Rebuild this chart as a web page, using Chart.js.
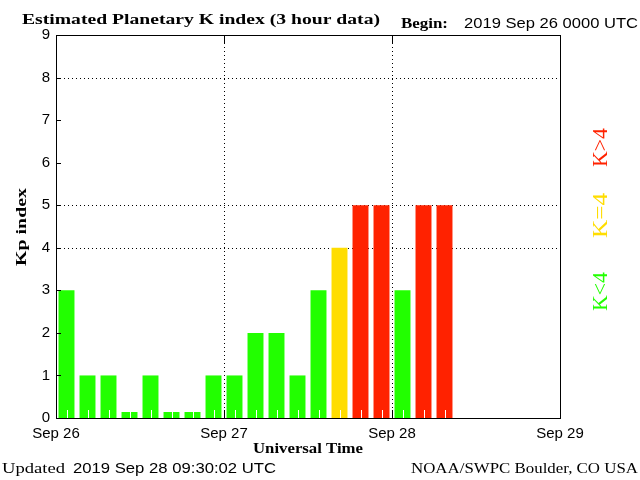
<!DOCTYPE html>
<html>
<head>
<meta charset="utf-8">
<script src="https://cdn.jsdelivr.net/npm/chart.js@4/dist/chart.umd.min.js"></script>
<style>
  html, body { margin: 0; padding: 0; background: #fff; }
  #wrap { width: 640px; height: 480px; }
</style>
</head>
<body>
<div id="wrap"><canvas id="c" width="640" height="480"></canvas></div>
<script>
// ---- data ----
const slotLabels = ['26 00','26 03','26 06','26 09','26 12','26 15','26 18','26 21',
                    '27 00','27 03','27 06','27 09','27 12','27 15','27 18','27 21',
                    '28 00','28 03','28 06','28 09','28 12','28 15','28 18','28 21'];
const kpValues = [3,1,1,0,1,0,0,1, 1,2,2,1,3,4,5,5, 3,5,5,null,null,null,null,null];
const dayTickLabels = ['Sep 26','Sep 27','Sep 28','Sep 29'];
const dayTickHours = [0,24,48,72];
const dottedY = [4,5,8];
const titleText = 'Estimated Planetary K index (3 hour data)';
const beginLabel = 'Begin:';
const beginText = '2019 Sep 26 0000 UTC';
const updatedLabel = 'Updated';
const updatedText = '2019 Sep 28 09:30:02 UTC';
const creditText = 'NOAA/SWPC Boulder, CO USA';
const xTitle = 'Universal Time';
const yTitle = 'Kp index';
const legendTexts = ['K<4','K=4','K>4'];

const GREEN = '#22FF00', YELLOW = '#FFDD00', RED = '#FF2200';
function kpColor(v){ return v > 4 ? RED : (v === 4 ? YELLOW : GREEN); }

function fitText(ctx, text, x, y, width, font, color, rotate){
  ctx.save();
  ctx.font = font;
  ctx.fillStyle = color;
  ctx.textAlign = 'left';
  ctx.textBaseline = 'alphabetic';
  const w = ctx.measureText(text).width;
  ctx.translate(x, y);
  if (rotate) ctx.rotate(-Math.PI/2);
  ctx.scale(width / w, 1);
  ctx.fillText(text, 0, 0);
  ctx.restore();
}

const decor = {
  id: 'decor',
  beforeDatasetsDraw(chart){
    const {ctx, chartArea: a, scales} = chart;
    ctx.save();
    ctx.strokeStyle = '#000';
    ctx.lineWidth = 1;
    ctx.setLineDash([1,3]);
    dottedY.forEach(v => {
      const y = Math.round(scales.y.getPixelForValue(v)) + 0.5;
      ctx.beginPath(); ctx.moveTo(a.left, y); ctx.lineTo(a.right, y); ctx.stroke();
    });
    dayTickHours.slice(1, -1).forEach(h => {
      const x = Math.round(scales.x.getPixelForValue(h)) + 0.5;
      ctx.beginPath(); ctx.moveTo(x, a.top); ctx.lineTo(x, a.bottom); ctx.stroke();
    });
    ctx.restore();
  },
  afterDatasetsDraw(chart){
    const {ctx, chartArea: a, scales} = chart;
    const meta = chart.getDatasetMeta(0);
    ctx.save();
    ctx.strokeStyle = '#fff';
    ctx.lineWidth = 1;
    meta.data.forEach(el => {
      const x = Math.round(el.x) + 0.5;
      ctx.beginPath(); ctx.moveTo(x, a.bottom); ctx.lineTo(x, a.bottom - 8); ctx.stroke();
    });
    ctx.strokeStyle = '#000';
    ctx.strokeRect(Math.round(a.left) + 0.5, Math.round(a.top) + 0.5,
                   Math.round(a.right - a.left), Math.round(a.bottom - a.top));
    for (let v = 0; v <= 9; v++) {
      const y = Math.round(scales.y.getPixelForValue(v)) + 0.5;
      ctx.beginPath(); ctx.moveTo(a.left, y); ctx.lineTo(a.left + 5, y); ctx.stroke();
    }
    dayTickHours.slice(1, -1).forEach(h => {
      const x = Math.round(scales.x.getPixelForValue(h)) + 0.5;
      ctx.beginPath(); ctx.moveTo(x, a.bottom); ctx.lineTo(x, a.bottom - 8); ctx.stroke();
      ctx.beginPath(); ctx.moveTo(x, a.top); ctx.lineTo(x, a.top + 8); ctx.stroke();
    });
    ctx.restore();
  },
  afterDraw(chart){
    const ctx = chart.ctx;
    const serifB = 'bold 15px "Liberation Serif"';
    const serif = '15px "Liberation Serif"';
    const sans = '15px "Liberation Sans"';
    fitText(ctx, titleText, 22, 24, 358, serifB, '#000');
    fitText(ctx, beginLabel, 401, 28, 47, serifB, '#000');
    fitText(ctx, beginText, 464, 28, 174, sans, '#000');
    fitText(ctx, yTitle, 26, 266, 78, serifB, '#000', true);
    fitText(ctx, xTitle, 253, 453, 110, serifB, '#000');
    fitText(ctx, updatedLabel, 2, 473, 63, serif, '#000');
    fitText(ctx, updatedText, 73, 473, 203, sans, '#000');
    fitText(ctx, creditText, 411, 473, 227, serif, '#000');
    const lf = '22px "Liberation Serif"';
    fitText(ctx, legendTexts[0], 607, 311, 39, lf, GREEN, true);
    fitText(ctx, legendTexts[1], 607, 238, 45, lf, YELLOW, true);
    fitText(ctx, legendTexts[2], 607, 167, 39, lf, RED, true);
  }
};

new Chart(document.getElementById('c'), {
  type: 'bar',
  data: {
    labels: slotLabels,
    datasets: [{
      data: kpValues,
      xAxisID: 'xc',
      yAxisID: 'y',
      backgroundColor: kpValues.map(v => kpColor(v)),
      borderWidth: 0,
      barPercentage: 0.76,
      categoryPercentage: 1.0,
      minBarLength: 6,
      clip: 0
    }]
  },
  options: {
    responsive: false,
    animation: false,
    devicePixelRatio: 1,
    layout: { padding: { left: 0, right: 80, top: 35, bottom: 0 } },
    plugins: { legend: { display: false }, tooltip: { enabled: false }, title: { display: false } },
    scales: {
      xc: { type: 'category', display: false, offset: true, grid: { display: false } },
      x: {
        type: 'linear', position: 'bottom', min: 0, max: 72, offset: false,
        afterBuildTicks(scale){ scale.ticks = dayTickHours.map(v => ({ value: v })); },
        afterFit(scale){ scale.height = 62; },
        ticks: {
          autoSkip: false, maxRotation: 0, padding: 7, color: '#000',
          font: { family: 'Liberation Sans', size: 15 },
          callback: (v) => dayTickLabels[dayTickHours.indexOf(v)]
        },
        grid: { display: false, drawTicks: false, offset: false },
        border: { display: false }
      },
      y: {
        min: 0, max: 9,
        afterFit(scale){ scale.width = 56; },
        ticks: { stepSize: 1, padding: 6, color: '#000', font: { family: 'Liberation Sans', size: 15 } },
        grid: { display: false, drawTicks: false },
        border: { display: false }
      }
    }
  },
  plugins: [decor]
});
</script>
</body>
</html>
